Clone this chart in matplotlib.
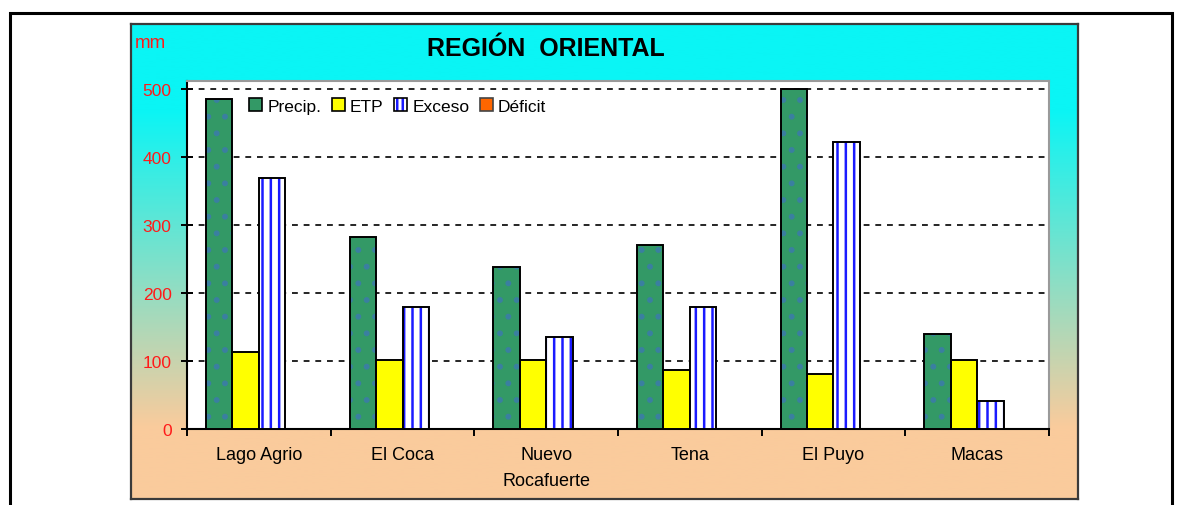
import numpy as np
import matplotlib
matplotlib.use("Agg")
import matplotlib.pyplot as plt
from matplotlib.patches import Patch, Rectangle
from matplotlib.colors import to_rgb

# Data (mm)
stations = ["Lago Agrio", "El Coca", "Nuevo\nRocafuerte", "Tena", "El Puyo", "Macas"]
precip = [485, 282, 238, 270, 500, 140]
etp = [113, 102, 102, 87, 81, 102]
exceso = [370, 179, 135, 179, 422, 41]
deficit = [0, 0, 0, 0, 0, 0]

plt.rcParams['font.family'] = ['Liberation Sans', 'DejaVu Sans']
plt.rcParams['hatch.linewidth'] = 1.8

W, H = 1182, 506
fig = plt.figure(figsize=(W / 100, H / 100), dpi=100)
fig.patch.set_facecolor('white')

def fx(px):
    return px / W

def fy(py):
    return 1 - py / H

# outer black frame (bottom edge is cut off)
fig.add_artist(Rectangle((fx(10), -0.2), fx(1172) - fx(10), fy(14) + 0.2,
                         transform=fig.transFigure, fill=False,
                         edgecolor='black', linewidth=2.2))

# chart area with vertical gradient cyan -> peach
bg = fig.add_axes([fx(131), fy(500), fx(1078) - fx(131), fy(25) - fy(500)], zorder=0)
top_c = np.array(to_rgb('#0AF5F5'))
bot_c = np.array(to_rgb('#FACB9C'))
t = np.linspace(0, 1, 300)
mix = np.clip((t - 0.18) / (0.85 - 0.18), 0, 1)
grad = top_c[None, :] * (1 - mix[:, None]) + bot_c[None, :] * mix[:, None]
bg.imshow(grad[:, None, :], aspect='auto', extent=[0, 1, 0, 1])
bg.set_xticks([])
bg.set_yticks([])
for s in bg.spines.values():
    s.set_color('#3a3a3a')
    s.set_linewidth(1.6)

# plot area
ax = fig.add_axes([fx(187), fy(430), fx(1049) - fx(187), fy(82) - fy(430)], zorder=1)
ax.set_facecolor('white')

x = np.arange(len(stations))
w = 0.184

green = '#339966'
ax.bar(x - 1.5 * w, precip, w, color=green, edgecolor='#3a7fa0', hatch='.',
       linewidth=0, zorder=3)
ax.bar(x - 1.5 * w, precip, w, facecolor='none', edgecolor='black', linewidth=1.4, zorder=4)
ax.bar(x - 0.5 * w, etp, w, color='#FFFF00', edgecolor='black', linewidth=1.4, zorder=3)
ax.bar(x + 0.5 * w, exceso, w, color='white', edgecolor='#1a1aff', hatch='||',
       linewidth=0, zorder=3)
ax.bar(x + 0.5 * w, exceso, w, facecolor='none', edgecolor='black', linewidth=1.4, zorder=4)
ax.bar(x + 1.5 * w, deficit, w, color='#FF6600', edgecolor='black', linewidth=1.4, zorder=3)

ax.set_xlim(-0.5, len(stations) - 0.5)
ax.set_ylim(0, 512)

# y axis
ax.set_yticks([0, 100, 200, 300, 400, 500])
ax.yaxis.grid(True, color='black', linestyle=(0, (3.5, 3.5)), linewidth=1.2, zorder=1)
ax.set_axisbelow(True)
ax.tick_params(axis='y', direction='inout', length=8, width=1.4, colors='black',
               labelcolor='#FF1A1A', labelsize=12.5, pad=7)

# x axis: ticks at group boundaries, labels at group centres
ax.set_xticks(np.arange(-0.5, len(stations), 1.0))
ax.set_xticklabels([])
ax.set_xticks(x, minor=True)
ax.set_xticklabels(stations, minor=True, fontsize=13, linespacing=1.75)
ax.tick_params(axis='x', which='major', direction='out', length=5, width=1.4)
ax.tick_params(axis='x', which='minor', length=0, pad=12)

for side in ['left', 'bottom']:
    ax.spines[side].set_color('black')
    ax.spines[side].set_linewidth(1.5)
for side in ['top', 'right']:
    ax.spines[side].set_color('#9a9a9a')
    ax.spines[side].set_linewidth(1.5)

# legend
handles = [
    Patch(facecolor=green, edgecolor='black', linewidth=1.2),
    Patch(facecolor='#FFFF00', edgecolor='black', linewidth=1.2),
    (Patch(facecolor='white', edgecolor='#1a1aff', hatch='|||', linewidth=0),
     Patch(facecolor='none', edgecolor='black', linewidth=1.2)),
    Patch(facecolor='#FF6600', edgecolor='#444444', linewidth=1.2),
]
ax.legend(handles, ['Precip.', 'ETP', 'Exceso', 'Déficit'], loc='upper left',
          bbox_to_anchor=(0.058, 0.985), ncol=4, frameon=False, fontsize=12.5,
          handlelength=0.75, handleheight=0.75, handletextpad=0.3,
          columnspacing=0.6, borderpad=0.2)

# title and unit
fig.text(fx(546), fy(49), 'REGIÓN  ORIENTAL', ha='center', va='center',
         fontsize=18, fontweight='bold', color='black')
fig.text(fx(135), fy(44), 'mm', ha='left', va='center', fontsize=13.5, color='#FF1A1A')

fig.savefig('out.png', dpi=100)
